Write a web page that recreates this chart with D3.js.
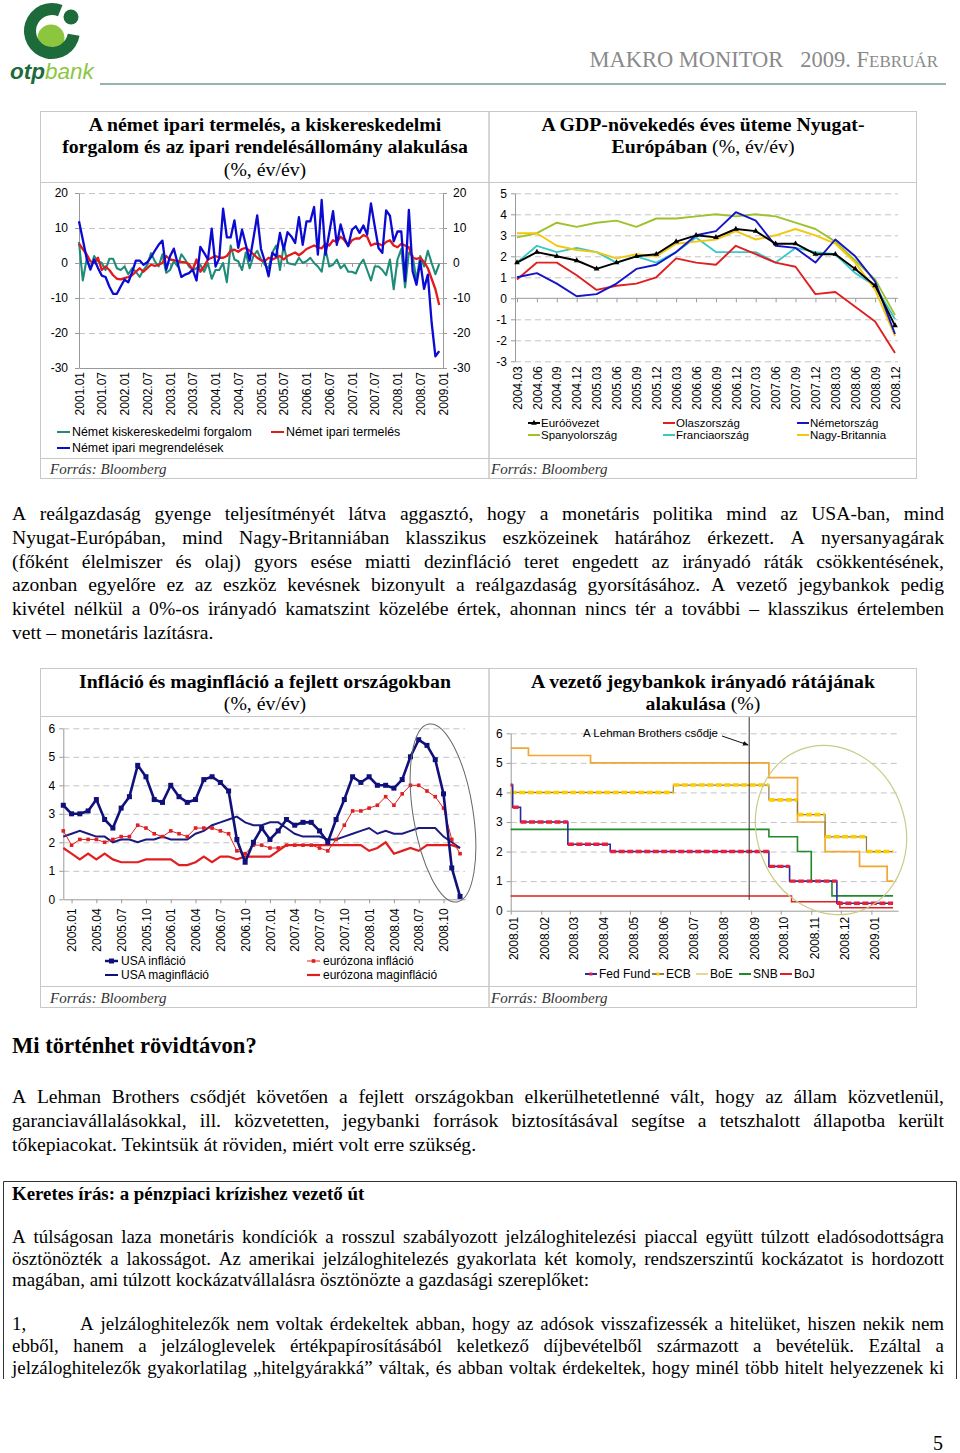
<!DOCTYPE html>
<html><head><meta charset="utf-8">
<script src="https://cdn.jsdelivr.net/npm/d3@7"></script>
<style>
body{margin:0;background:#fff;}
#page{position:relative;width:960px;height:1453px;overflow:hidden;background:#fff;}
</style></head>
<body><div id="page"></div>
<script>
// ---------------- DATA ----------------
// Chart 1: German industry, monthly 2001.01 - 2008.12
const c1TickLabels=["2001.01","2001.07","2002.01","2002.07","2003.01","2003.07","2004.01","2004.07","2005.01","2005.07","2006.01","2006.07","2007.01","2007.07","2008.01","2008.07","2009.01"];
const c1YTicks=[20,10,0,-10,-20,-30];
const c1Retail=[6,-5,1,-1.5,2,0.5,0,-2,1.2,1.2,-1.5,-2,-1,-3.2,-1.5,-2.5,-4,-2,-0.5,2.8,0.5,-1,2.5,-2.8,-2,0.5,-1,2.5,1,-1,-2,-1.5,-0.5,-2.5,0,-4.5,-2,-2,0,-5.5,5,1,0.5,-2,3,-1.5,2,3.5,1,-0.5,-1.5,3,5,-2,5,0,-0.3,-0.5,1.5,0,0.5,1.5,0,-1,-2.5,4,-1,-0.5,1,-1.5,-0.5,-2.5,-2.5,-3,-0.5,1,-2,-5,-1,-1,-2,-3.5,1,-7.5,1,4,-7,3,2,-5,2,-1,3.5,0,-3.2,-0.3];
const c1Production=[5.5,4,2.5,0.5,0,1.5,-2,-1,-2,-3.5,-4.5,-4.7,-4.3,-4,-3.5,-2.5,-1.5,-2.5,-1.5,-0.5,-0.8,-0.5,0,2,1,0.8,0.5,0.3,0.2,-0.3,-2,1,-2.5,-1,1,1.5,2,1.5,1.5,2,3.5,3.8,3.2,4,4.3,3.5,2.5,1.5,0.8,0.5,1.5,1,1.5,2,1,2,2.5,3,2.2,3,4,4.5,5,4.5,4.2,5.5,5,6.5,6,7.5,6.5,5,6.5,7,7,8,7.5,5,5.5,5.5,5,6,6.5,5,4.5,5.5,5,4.5,1.5,1.2,1.5,0.3,-1.5,-4.5,-7.5,-12];
const c1Orders=[11.9,6.7,1.4,-1.9,1,-1.4,-3.6,-4,-6.7,-8.8,-8.8,-6.7,-4.8,-5.5,-2.7,0.7,0.7,-0.5,0.2,1.7,3.5,5.2,6.4,-1.9,1.9,4.1,0,-4,-3.3,-2.9,-1.9,-5,4.6,2.9,1,9.8,-1,1.4,15.5,7.3,7.3,12.2,4.3,9.5,5.2,0.7,7,13.6,4,0.5,-3.8,2.9,1.9,8.6,3.8,8.8,7.6,5.7,13.1,5.2,11.9,11.9,16,2.4,18,2.4,8.6,14.8,5.2,11,7.1,4.8,9.5,10.5,8.6,10.7,8.1,17,10.5,4.3,2.9,15,13.5,6.2,9,9,-5.2,15.2,-2.4,-6.2,0.5,-7.4,-3.3,-17,-26.7,-25.2];

// Chart 2: GDP growth, quarterly
const c2Quarters=["2004.03","2004.06","2004.09","2004.12","2005.03","2005.06","2005.09","2005.12","2006.03","2006.06","2006.09","2006.12","2007.03","2007.06","2007.09","2007.12","2008.03","2008.06","2008.09","2008.12"];
const c2YTicks=[5,4,3,2,1,0,-1,-2,-3];
const c2Euro=[1.7,2.2,2.0,1.8,1.4,1.7,2.0,2.1,2.7,3.0,2.9,3.3,3.2,2.6,2.6,2.1,2.1,1.4,0.6,-1.3];
const c2Italy=[0.9,1.7,1.7,1.1,0.4,0.6,0.7,1.0,1.9,1.7,1.6,2.5,2.1,1.7,1.5,0.2,0.3,-0.4,-1.1,-2.6];
const c2Germany=[1.0,1.2,0.7,0.1,0.2,0.7,1.4,1.6,2.2,3.0,3.2,4.1,3.7,2.5,2.4,1.7,2.8,2.0,0.8,-1.7];
const c2Spain=[2.9,3.1,3.6,3.4,3.6,3.7,3.4,3.8,3.8,3.9,4.0,3.9,4.0,3.9,3.6,3.3,2.7,1.8,0.9,-0.8];
const c2France=[1.7,2.5,2.2,2.4,2.2,1.7,2.0,1.7,2.2,2.9,2.2,2.2,2.2,1.7,2.4,2.2,2.1,1.2,0.6,-1.0];
const c2UK=[3.1,3.1,2.5,2.3,2.2,1.9,2.1,2.0,2.6,2.7,2.8,3.2,2.8,3.0,3.3,3.0,2.6,1.7,0.4,-1.8];

// Chart 3: inflation, monthly 2004.12 - 2008.12
const c3TickLabels=["2005.01","2005.04","2005.07","2005.10","2006.01","2006.04","2006.07","2006.10","2007.01","2007.04","2007.07","2007.10","2008.01","2008.04","2008.07","2008.10"];
const c3YTicks=[0,1,2,3,4,5,6];
const c3UsInfl=[3.3,3.0,3.0,3.1,3.5,2.8,2.5,3.2,3.6,4.7,4.3,3.5,3.4,4.0,3.6,3.4,3.5,4.2,4.3,4.1,3.8,2.1,1.3,2.0,2.5,2.1,2.4,2.8,2.6,2.7,2.7,2.4,2.0,2.8,3.5,4.3,4.1,4.3,4.0,4.0,3.9,4.2,5.0,5.6,5.4,4.9,3.7,1.1,0.1];
const c3UsCore=[2.2,2.3,2.4,2.3,2.2,2.2,2.0,2.1,2.1,2.0,2.1,2.1,2.2,2.1,2.1,2.1,2.3,2.4,2.6,2.7,2.8,2.9,2.7,2.6,2.6,2.7,2.7,2.5,2.3,2.2,2.2,2.2,2.1,2.1,2.2,2.3,2.4,2.5,2.3,2.4,2.3,2.3,2.4,2.5,2.5,2.5,2.2,2.0,1.8];
const c3EuInfl=[2.4,1.9,2.1,2.1,2.1,2.0,2.1,2.2,2.2,2.6,2.5,2.3,2.2,2.4,2.3,2.2,2.5,2.5,2.5,2.4,2.3,1.7,1.6,1.9,1.9,1.8,1.8,1.9,1.9,1.9,1.9,1.8,1.7,2.1,2.6,3.1,3.1,3.2,3.3,3.6,3.3,3.7,4.0,4.0,3.8,3.6,3.2,2.1,1.6];
const c3EuCore=[1.8,1.6,1.4,1.6,1.4,1.6,1.4,1.3,1.3,1.3,1.4,1.4,1.4,1.4,1.2,1.2,1.3,1.5,1.3,1.5,1.5,1.4,1.5,1.5,1.5,1.5,1.7,1.9,1.9,1.9,1.9,1.9,1.9,1.9,1.9,1.9,1.9,1.7,1.8,2.0,1.6,1.7,1.8,1.7,1.9,1.9,1.9,1.9,1.8];

// Chart 4: policy rates (change dates and levels)
const c4TickDates=["2008-01-20","2008-02-20","2008-03-20","2008-04-20","2008-05-20","2008-06-20","2008-07-20","2008-08-20","2008-09-20","2008-10-20","2008-11-20","2008-12-20","2009-01-20"];
const c4TickLabels=["2008.01","2008.02","2008.03","2008.04","2008.05","2008.06","2008.07","2008.08","2008.09","2008.10","2008.11","2008.12","2009.01"];
const c4YTicks=[0,1,2,3,4,5,6];
const fedDates=["2008-01-20","2008-01-22","2008-01-30","2008-03-18","2008-04-30","2008-10-08","2008-10-29","2008-12-16","2009-02-11"];
const fedRates=[4.25,3.5,3.0,2.25,2.0,1.5,1.0,0.25,0.25];
const ecbDates=["2008-01-20","2008-07-03","2008-10-08","2008-11-06","2008-12-04","2009-01-15","2009-02-11"];
const ecbRates=[4.0,4.25,3.75,3.25,2.5,2.0,2.0];
const boeDates=["2008-01-20","2008-02-07","2008-04-10","2008-10-08","2008-11-06","2008-12-04","2009-01-08","2009-02-05","2009-02-11"];
const boeRates=[5.5,5.25,5.0,4.5,3.0,2.0,1.5,1.0,1.0];
const snbDates=["2008-01-20","2008-10-08","2008-11-06","2008-11-20","2008-12-11","2009-02-11"];
const snbRates=[2.75,2.5,2.0,1.0,0.5,0.5];
const bojDates=["2008-01-20","2008-10-31","2008-12-19","2009-02-11"];
const bojRates=[0.5,0.3,0.1,0.1];
const lehmanDate="2008-09-18";

// ---------------- SETUP ----------------
const SANS='"Liberation Sans", Arial, sans-serif';
const SERIF='"Liberation Serif", "Times New Roman", serif';
const svg=d3.select("#page").append("svg").attr("width",960).attr("height",1453);
const GRID="#c4c4c4", AX="#9a9a9a";
const fmt=d=>String(d);

function styleAxis(sel,size){
  sel.attr("font-family",SANS).attr("font-size",size||12);
  sel.selectAll("path.domain").attr("stroke",AX);
  sel.selectAll(".tick line").attr("stroke",AX);
  sel.selectAll(".tick text").attr("fill","#000");
  return sel;
}
function gridY(g,scale,vals,x0,x1){
  const a=d3.axisLeft(scale).tickValues(vals).tickSize(-(x1-x0)).tickFormat("");
  const s=g.append("g").attr("transform",`translate(${x0},0)`).call(a);
  s.select("path.domain").remove();
  s.selectAll(".tick line").attr("stroke",GRID).attr("stroke-dasharray","6,4");
}
function rotLabels(sel,off){
  sel.selectAll(".tick text").attr("transform","rotate(-90)").attr("text-anchor","end")
    .attr("x",-off).attr("y",0).attr("dy","0.35em");
}

// ---------------- HEADER ----------------
const logo=svg.append("g");
logo.append("circle").attr("cx",51).attr("cy",38).attr("r",13.5).attr("fill","#8cc63f");
logo.append("path").attr("transform","translate(52,31)")
  .attr("d",d3.arc().innerRadius(16).outerRadius(28).startAngle(100*Math.PI/180).endAngle(382*Math.PI/180)())
  .attr("fill","#1d6b3a");
logo.append("circle").attr("cx",71).attr("cy",17).attr("r",7.5).attr("fill","#1d6b3a");
const lt=logo.append("text").attr("x",10).attr("y",79).attr("font-family",SANS).attr("font-size",22.5).attr("font-style","italic");
lt.append("tspan").attr("fill","#1d6b3a").attr("font-weight","bold").text("otp");
lt.append("tspan").attr("fill","#8cc63f").text("bank");
const ht=svg.append("text").attr("x",938).attr("y",67).attr("text-anchor","end").attr("font-family",SERIF).attr("fill","#8a8a8a").attr("font-size",22.5);
ht.append("tspan").text("MAKRO MONITOR\u00A0\u00A0 2009. F");
ht.append("tspan").attr("font-size",17).text("EBRUÁR");
svg.append("line").attr("x1",100).attr("x2",946).attr("y1",84).attr("y2",84).attr("stroke","#6f9e8c").attr("stroke-width",1.6);

// ---------------- PANELS ----------------
function panel(x0,x1,yT,yS,yF,yB,tx){
  const g=svg.append("g").attr("fill","none").attr("stroke","#c8c8c8").attr("stroke-width",1);
  g.append("rect").attr("x",x0).attr("y",yT).attr("width",x1-x0).attr("height",yB-yT);
  g.append("line").attr("x1",x0).attr("x2",x1).attr("y1",yS).attr("y2",yS);
  g.append("line").attr("x1",x0).attr("x2",x1).attr("y1",yF).attr("y2",yF);
  svg.append("text").attr("x",tx).attr("y",yB-5).attr("font-family",SERIF).attr("font-style","italic")
    .attr("font-size",15).attr("fill","#333").text("Forrás: Bloomberg");
}
panel(40.5,489,111.5,182.5,458.5,478.5,50);
panel(489,916.5,111.5,182.5,458.5,478.5,491);
panel(40.5,489,668.5,716.5,986.5,1007.5,50);
panel(489,916.5,668.5,716.5,986.5,1007.5,491);

function title(cx,y,parts,size){
  const t=svg.append("text").attr("x",cx).attr("y",y).attr("text-anchor","middle").attr("font-family",SERIF).attr("font-size",size||19.8);
  parts.forEach(p=>t.append("tspan").attr("font-weight",p[1]?"bold":"normal").text(p[0]));
}
title(265,131,[["A német ipari termelés, a kiskereskedelmi",1]]);
title(265,153,[["forgalom és az ipari rendelésállomány alakulása",1]]);
title(265,176,[["(%, év/év)",0]]);
title(703,131,[["A GDP-növekedés éves üteme Nyugat-",1]]);
title(703,153,[["Európában",1],[" (%, év/év)",0]]);
title(265,688,[["Infláció és maginfláció a fejlett országokban",1]]);
title(265,710,[["(%, év/év)",0]]);
title(703,688,[["A vezető jegybankok irányadó rátájának",1]]);
title(703,710,[["alakulása",1],[" (%)",0]]);

// ---------------- CHART 1 ----------------
{
  const g=svg.append("g");
  const x=d3.scaleLinear().domain([0,96]).range([79,443]);
  const y=d3.scaleLinear().domain([-30,20]).range([368,193]);
  gridY(g,y,[20,10,-10,-20],79,443);
  const tickIdx=c1TickLabels.map((d,i)=>i*6);
  const bx=g.append("g").attr("transform",`translate(0,${y(-30)})`)
    .call(d3.axisBottom(x).tickValues(tickIdx).tickFormat((d,i)=>c1TickLabels[i]).tickSize(0).tickSizeOuter(0));
  styleAxis(bx,12); rotLabels(bx,4);
  const zx=g.append("g").attr("transform",`translate(0,${y(0)})`)
    .call(d3.axisBottom(x).tickValues(tickIdx).tickFormat("").tickSize(4).tickSizeOuter(0));
  styleAxis(zx);
  const la=g.append("g").attr("transform","translate(79,0)").call(d3.axisLeft(y).tickValues(c1YTicks).tickFormat(fmt).tickSize(4).tickPadding(7).tickSizeOuter(0));
  styleAxis(la,12);
  const ra=g.append("g").attr("transform","translate(443,0)").call(d3.axisRight(y).tickValues(c1YTicks).tickFormat(fmt).tickSize(4).tickPadding(6).tickSizeOuter(0));
  styleAxis(ra,12);
  const line=d3.line().x((d,i)=>x(i)).y(d=>y(d));
  [[c1Retail,"#1f8c7a",2.1],[c1Production,"#e31a1c",2.3],[c1Orders,"#0a0ad2",2.3]].forEach(s=>{
    g.append("path").datum(s[0]).attr("d",line).attr("fill","none").attr("stroke",s[1]).attr("stroke-width",s[2]).attr("stroke-linejoin","round");
  });
  const lg=g.append("g").attr("font-family",SANS).attr("font-size",12.4);
  [["Német kiskereskedelmi forgalom","#1f8c7a",57,436],["Német ipari termelés","#e31a1c",271,436],["Német ipari megrendelések","#0a0ad2",57,452]].forEach(l=>{
    lg.append("line").attr("x1",l[2]).attr("x2",l[2]+13).attr("y1",l[3]-4).attr("y2",l[3]-4).attr("stroke",l[1]).attr("stroke-width",2);
    lg.append("text").attr("x",l[2]+15).attr("y",l[3]).text(l[0]);
  });
}

// ---------------- CHART 2 ----------------
{
  const g=svg.append("g");
  const x=d3.scalePoint().domain(c2Quarters).range([517,895]);
  const y=d3.scaleLinear().domain([-3,5]).range([361.3,193.3]);
  gridY(g,y,[5,4,3,2,1,-1,-2,-3],515,898);
  const bx=g.append("g").attr("transform",`translate(0,${y(-3)})`)
    .call(d3.axisBottom(x).tickSize(0).tickSizeOuter(0));
  styleAxis(bx,12); bx.select("path.domain").remove(); rotLabels(bx,5);
  const zx=g.append("g").attr("transform",`translate(0,${y(0)})`)
    .call(d3.axisBottom(x).tickFormat("").tickSize(4).tickSizeOuter(0));
  styleAxis(zx); zx.select("path.domain").attr("d","M515,0H898");
  const la=g.append("g").attr("transform","translate(515,0)").call(d3.axisLeft(y).tickValues(c2YTicks).tickFormat(fmt).tickSize(4).tickPadding(4).tickSizeOuter(0));
  styleAxis(la,12);
  const line=d3.line().x((d,i)=>x(c2Quarters[i])).y(d=>y(d));
  const series=[[c2Spain,"#9fc12c"],[c2France,"#3cc8c8"],[c2UK,"#f2c80f"],[c2Italy,"#e02020"],[c2Germany,"#1414c8"],[c2Euro,"#000"]];
  series.forEach(s=>g.append("path").datum(s[0]).attr("d",line).attr("fill","none").attr("stroke",s[1]).attr("stroke-width",1.9).attr("stroke-linejoin","round"));
  g.selectAll(".eum").data(c2Euro).join("path").attr("class","eum")
    .attr("transform",(d,i)=>`translate(${x(c2Quarters[i])},${y(d)})`).attr("d",d3.symbol(d3.symbolTriangle,14)).attr("fill","#000");
  const lg=g.append("g").attr("font-family",SANS).attr("font-size",11.5);
  [["Euróövezet","#000",528,427,1],["Olaszország","#e02020",663,427],["Németország","#1414c8",797,427],
   ["Spanyolország","#9fc12c",528,439],["Franciaország","#3cc8c8",663,439],["Nagy-Britannia","#f2c80f",797,439]].forEach(l=>{
    lg.append("line").attr("x1",l[2]).attr("x2",l[2]+12).attr("y1",l[3]-4).attr("y2",l[3]-4).attr("stroke",l[1]).attr("stroke-width",2);
    if(l[4]) lg.append("path").attr("transform",`translate(${l[2]+6},${l[3]-4})`).attr("d",d3.symbol(d3.symbolTriangle,14)).attr("fill","#000");
    lg.append("text").attr("x",l[2]+13).attr("y",l[3]).text(l[0]);
  });
}

// ---------------- CHART 3 ----------------
{
  const g=svg.append("g");
  const x=d3.scaleLinear().domain([0,48.6]).range([63.3,465]);
  const y=d3.scaleLinear().domain([0,6]).range([899.3,728.3]);
  gridY(g,y,[1,2,3,4,5,6],63.3,465);
  const tickIdx=c3TickLabels.map((d,i)=>1+i*3);
  const bx=g.append("g").attr("transform",`translate(0,${y(0)})`)
    .call(d3.axisBottom(x).tickValues(tickIdx).tickFormat((d,i)=>c3TickLabels[i]).tickSize(4).tickSizeOuter(0));
  styleAxis(bx,12); rotLabels(bx,9);
  const la=g.append("g").attr("transform","translate(63.3,0)").call(d3.axisLeft(y).tickValues(c3YTicks).tickFormat(fmt).tickSize(4).tickPadding(4).tickSizeOuter(0));
  styleAxis(la,12);
  const line=d3.line().x((d,i)=>x(i)).y(d=>y(d));
  g.append("path").datum(c3EuCore).attr("d",line).attr("fill","none").attr("stroke","#e02020").attr("stroke-width",2.2);
  g.append("path").datum(c3UsCore).attr("d",line).attr("fill","none").attr("stroke","#1a1a80").attr("stroke-width",2);
  g.append("path").datum(c3EuInfl).attr("d",line).attr("fill","none").attr("stroke","#e02020").attr("stroke-width",1);
  g.selectAll(".eim").data(c3EuInfl).join("rect").attr("class","eim").attr("x",(d,i)=>x(i)-1.8).attr("y",d=>y(d)-1.8).attr("width",3.6).attr("height",3.6).attr("fill","#e02020");
  g.append("path").datum(c3UsInfl).attr("d",line).attr("fill","none").attr("stroke","#10107a").attr("stroke-width",2.6).attr("stroke-linejoin","round");
  g.selectAll(".uim").data(c3UsInfl).join("rect").attr("class","uim").attr("x",(d,i)=>x(i)-2.5).attr("y",d=>y(d)-2.5).attr("width",5).attr("height",5).attr("fill","#10107a");
  g.append("ellipse").attr("cx",443).attr("cy",813).attr("rx",30).attr("ry",90).attr("transform","rotate(-9,443,813)")
    .attr("fill","none").attr("stroke","#666").attr("stroke-width",1);
  const lg=g.append("g").attr("font-family",SANS).attr("font-size",12);
  [["USA infláció","#10107a",105,965,5,2.5],["USA maginfláció","#10107a",105,979,0,2],
   ["eurózona infláció","#e02020",307,965,3.6,1],["eurózona maginfláció","#e02020",307,979,0,2.2]].forEach(l=>{
    lg.append("line").attr("x1",l[2]).attr("x2",l[2]+13).attr("y1",l[3]-4).attr("y2",l[3]-4).attr("stroke",l[1]).attr("stroke-width",l[5]);
    if(l[4]) lg.append("rect").attr("x",l[2]+6.5-l[4]/2).attr("y",l[3]-4-l[4]/2).attr("width",l[4]).attr("height",l[4]).attr("fill",l[1]);
    lg.append("text").attr("x",l[2]+16).attr("y",l[3]).text(l[0]);
  });
}

// ---------------- CHART 4 ----------------
{
  const g=svg.append("g");
  const P=d3.timeParse("%Y-%m-%d");
  const x=d3.scaleTime().domain([P("2008-01-20"),P("2009-02-16")]).range([510.7,898]);
  const y=d3.scaleLinear().domain([0,6]).range([910.7,733.3]);
  gridY(g,y,[1,2,3,4,5,6],510.7,898);
  const tdates=c4TickDates.map(P);
  const bx=g.append("g").attr("transform",`translate(0,${y(0)})`)
    .call(d3.axisBottom(x).tickValues(tdates).tickFormat((d,i)=>c4TickLabels[i]).tickSize(4).tickSizeOuter(0));
  styleAxis(bx,12); rotLabels(bx,6);
  bx.selectAll(".tick text").attr("dy","0.6em");
  const la=g.append("g").attr("transform","translate(510.7,0)").call(d3.axisLeft(y).tickValues(c4YTicks).tickFormat(fmt).tickSize(4).tickPadding(4).tickSizeOuter(0));
  styleAxis(la,12);
  const step=d3.line().curve(d3.curveStepAfter).x(d=>x(P(d[0]))).y(d=>y(d[1]));
  const zip=(ds,rs)=>ds.map((d,i)=>[d,rs[i]]);
  function segs(ds,rs){const out=[];for(let i=0;i<ds.length-1;i++)out.push([[ds[i],rs[i]],[ds[i+1],rs[i]]]);return out;}
  const hline=d3.line().x(d=>x(P(d[0]))).y(d=>y(d[1]));
  g.append("path").datum(zip(bojDates,bojRates)).attr("d",step).attr("fill","none").attr("stroke","#e02020").attr("stroke-width",1.5);
  g.append("path").datum(zip(snbDates,snbRates)).attr("d",step).attr("fill","none").attr("stroke","#1e8a2a").attr("stroke-width",1.6);
  g.append("path").datum(zip(boeDates,boeRates)).attr("d",step).attr("fill","none").attr("stroke","#f2a634").attr("stroke-width",1.7);
  g.append("path").datum(zip(ecbDates,ecbRates)).attr("d",step).attr("fill","none").attr("stroke","#8a7a50").attr("stroke-width",1.2);
  segs(ecbDates,ecbRates).forEach(s=>g.append("path").datum(s).attr("d",hline).attr("stroke","#ffcc00").attr("stroke-width",3.6).attr("stroke-dasharray","6,2.5").attr("fill","none"));
  g.append("path").datum(zip(fedDates,fedRates)).attr("d",step).attr("fill","none").attr("stroke","#2a2aa0").attr("stroke-width",1.6);
  segs(fedDates,fedRates).forEach(s=>g.append("path").datum(s).attr("d",hline).attr("stroke","#e8203a").attr("stroke-width",3.4).attr("stroke-dasharray","6,2.5").attr("fill","none"));
  const lx=x(P(lehmanDate));
  g.append("line").attr("x1",lx).attr("x2",lx).attr("y1",717).attr("y2",900).attr("stroke","#333").attr("stroke-width",1);
  g.append("text").attr("x",718).attr("y",737).attr("text-anchor","end").attr("font-family",SANS).attr("font-size",11.5).text("A Lehman Brothers csődje");
  svg.append("defs").append("marker").attr("id","arr").attr("viewBox","0 0 10 10").attr("refX",9).attr("refY",5)
    .attr("markerWidth",6).attr("markerHeight",6).attr("orient","auto").append("path").attr("d","M0,1L10,5L0,9z").attr("fill","#111");
  g.append("line").attr("x1",722).attr("y1",736).attr("x2",lx-1).attr("y2",745).attr("stroke","#111").attr("stroke-width",1).attr("marker-end","url(#arr)");
  g.append("ellipse").attr("cx",831).attr("cy",830).attr("rx",74).attr("ry",86).attr("transform","rotate(-20,831,830)")
    .attr("fill","none").attr("stroke","#c9cc86").attr("stroke-width",1.2);
  const lg=g.append("g").attr("font-family",SANS).attr("font-size",12);
  [["Fed Fund","#2a2aa0",585,"#e8203a"],["ECB","#8a7a50",652,"#ffcc00"],["BoE","#e8d890",696],["SNB","#1e8a2a",739],["BoJ","#e02020",780]].forEach(l=>{
    lg.append("line").attr("x1",l[2]).attr("x2",l[2]+12).attr("y1",974).attr("y2",974).attr("stroke",l[1]).attr("stroke-width",2);
    if(l[3]) lg.append("rect").attr("x",l[2]+4.5).attr("y",972.5).attr("width",3).attr("height",3).attr("fill",l[3]);
    lg.append("text").attr("x",l[2]+14).attr("y",978).text(l[0]);
  });
}

// ---------------- TEXT ----------------
function textLine(str,x,y,width,size,opt){
  opt=opt||{};
  const g=svg.append("g").attr("font-family",SERIF).attr("font-size",size).attr("font-weight",opt.bold?"bold":"normal");
  if(opt.clip) g.attr("clip-path",opt.clip);
  if(!opt.justify){g.append("text").attr("x",x).attr("y",y).text(str);return;}
  const words=str.split(" ");
  const els=words.map(w=>g.append("text").attr("y",y).text(w));
  const ws=els.map(e=>e.node().getComputedTextLength());
  const gap=Math.max(2,(width-d3.sum(ws))/(words.length-1));
  let cx=x; els.forEach((e,i)=>{e.attr("x",cx);cx+=ws[i]+gap;});
}
const p1=["A reálgazdaság gyenge teljesítményét látva aggasztó, hogy a monetáris politika mind az USA-ban, mind",
"Nyugat-Európában, mind Nagy-Britanniában klasszikus eszközeinek határához érkezett. A nyersanyagárak",
"(főként élelmiszer és olaj) gyors esése miatti dezinfláció teret engedett az irányadó ráták csökkentésének,",
"azonban egyelőre ez az eszköz kevésnek bizonyult a reálgazdaság gyorsításához. A vezető jegybankok pedig",
"kivétel nélkül a 0%-os irányadó kamatszint közelébe értek, ahonnan nincs tér a további – klasszikus értelemben",
"vett – monetáris lazításra."];
p1.forEach((s,i)=>textLine(s,12,520+i*23.8,932,19.6,{justify:i<p1.length-1}));
textLine("Mi történhet rövidtávon?",12,1053,0,22.6,{bold:true});
const p2=["A Lehman Brothers csődjét követően a fejlett országokban elkerülhetetlenné vált, hogy az állam közvetlenül,",
"garanciavállalásokkal, ill. közvetetten, jegybanki források biztosításával segítse a tetszhalott állapotba került",
"tőkepiacokat. Tekintsük át röviden, miért volt erre szükség."];
p2.forEach((s,i)=>textLine(s,12,1103+i*23.8,932,19.6,{justify:i<p2.length-1}));

svg.append("path").attr("d","M3.5,1379V1181.5H956.5V1379").attr("fill","none").attr("stroke","#333").attr("stroke-width",1);
svg.append("clipPath").attr("id","boxclip").append("rect").attr("x",0).attr("y",1170).attr("width",960).attr("height",208);
textLine("Keretes írás: a pénzpiaci krízishez vezető út",12,1200,0,18.9,{bold:true});
const p3=["A túlságosan laza monetáris kondíciók a rosszul szabályozott jelzáloghitelezési piaccal együtt túlzott eladósodottságra",
"ösztönözték a lakosságot. Az amerikai jelzáloghitelezés gyakorlata két komoly, rendszerszintű kockázatot is hordozott",
"magában, ami túlzott kockázatvállalásra ösztönözte a gazdasági szereplőket:"];
p3.forEach((s,i)=>textLine(s,12,1243+i*21.6,932,18.9,{justify:i<p3.length-1}));
textLine("1,",12,1330,0,18.9);
textLine("A jelzáloghitelezők nem voltak érdekeltek abban, hogy az adósok visszafizessék a hitelüket, hiszen nekik nem",80,1330,864,18.9,{justify:true});
textLine("ebből, hanem a jelzáloglevelek értékpapírosításából keletkező díjbevételből származott a bevételük. Ezáltal a",12,1352,932,18.9,{justify:true});
textLine("jelzáloghitelezők gyakorlatilag „hitelgyárakká” váltak, és abban voltak érdekeltek, hogy minél több hitelt helyezzenek ki",12,1373.5,932,18.9,{justify:true,clip:"url(#boxclip)"});
textLine("5",933,1450,0,20);
</script>
</body></html>
